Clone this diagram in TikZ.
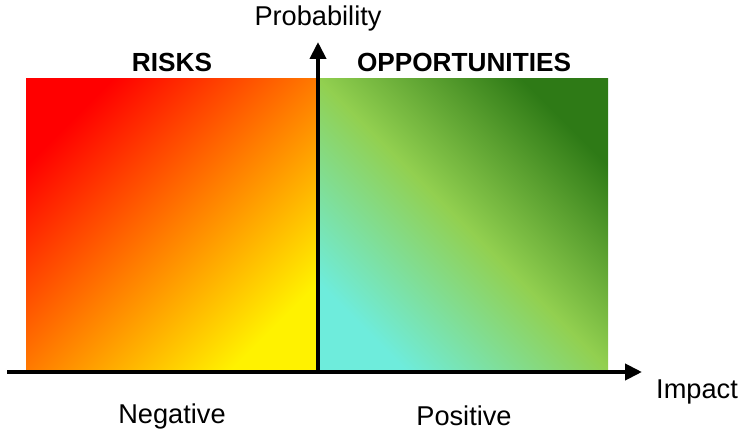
\documentclass[tikz,border=0pt]{standalone}
\usepackage{fontspec}
\setmainfont{Liberation Sans}
\usetikzlibrary{arrows.meta}
\definecolor{riskred}{HTML}{FF0000}
\definecolor{riskorange}{HTML}{FF7A00}
\definecolor{riskyellow}{HTML}{FFF200}
\definecolor{oppdark}{HTML}{2E7A16}
\definecolor{oppgreen}{HTML}{92D050}
\definecolor{oppcyan}{HTML}{6EECDC}
\pgfdeclareverticalshading{riskshade}{100bp}{color(0bp)=(riskyellow); color(25bp)=(riskyellow);
  color(50bp)=(riskorange); color(75bp)=(riskred); color(100bp)=(riskred)}
\pgfdeclareverticalshading{oppshade}{100bp}{color(0bp)=(oppcyan); color(25bp)=(oppcyan);
  color(50bp)=(oppgreen); color(75bp)=(oppdark); color(100bp)=(oppdark)}
\tikzset{
  axis/.style={line width=4pt,-{Triangle[length=17pt,width=16pt]}},
  title/.style={font=\fontsize{26.2}{31}\selectfont\bfseries},
  label/.style={font=\fontsize{27.2}{32}\selectfont}
}
\begin{document}
\begin{tikzpicture}[x=1pt,y=-1pt,line join=round]
  \useasboundingbox (0,0) rectangle (740,433);
  % the two fields
  \shade[shading=riskshade,shading angle=45] (26,79) rectangle (318,369);
  \shade[shading=oppshade,shading angle=-45] (318,79) rectangle (608,369);
  % axes
  \coordinate (O) at (318,372);
  \coordinate (xstart) at (7,372);
  \coordinate (xend) at (642,372);
  \coordinate (yend) at (318,42);
  \draw[axis] (xstart) -- (xend);
  \draw[axis] (O) -- (yend);
  \node[label] (prob) at (318,18) {Probability};
  \node[label] (impact) at (697,392) {Impact};
  \node[title] (risks) at (172,62) {RISKS};
  \node[title] (opps) at (464,62) {OPPORTUNITIES};
  \node[label] (neg) at (172,416) {Negative};
  \node[label] (pos) at (464,416) {Positive};
\end{tikzpicture}
\end{document}
